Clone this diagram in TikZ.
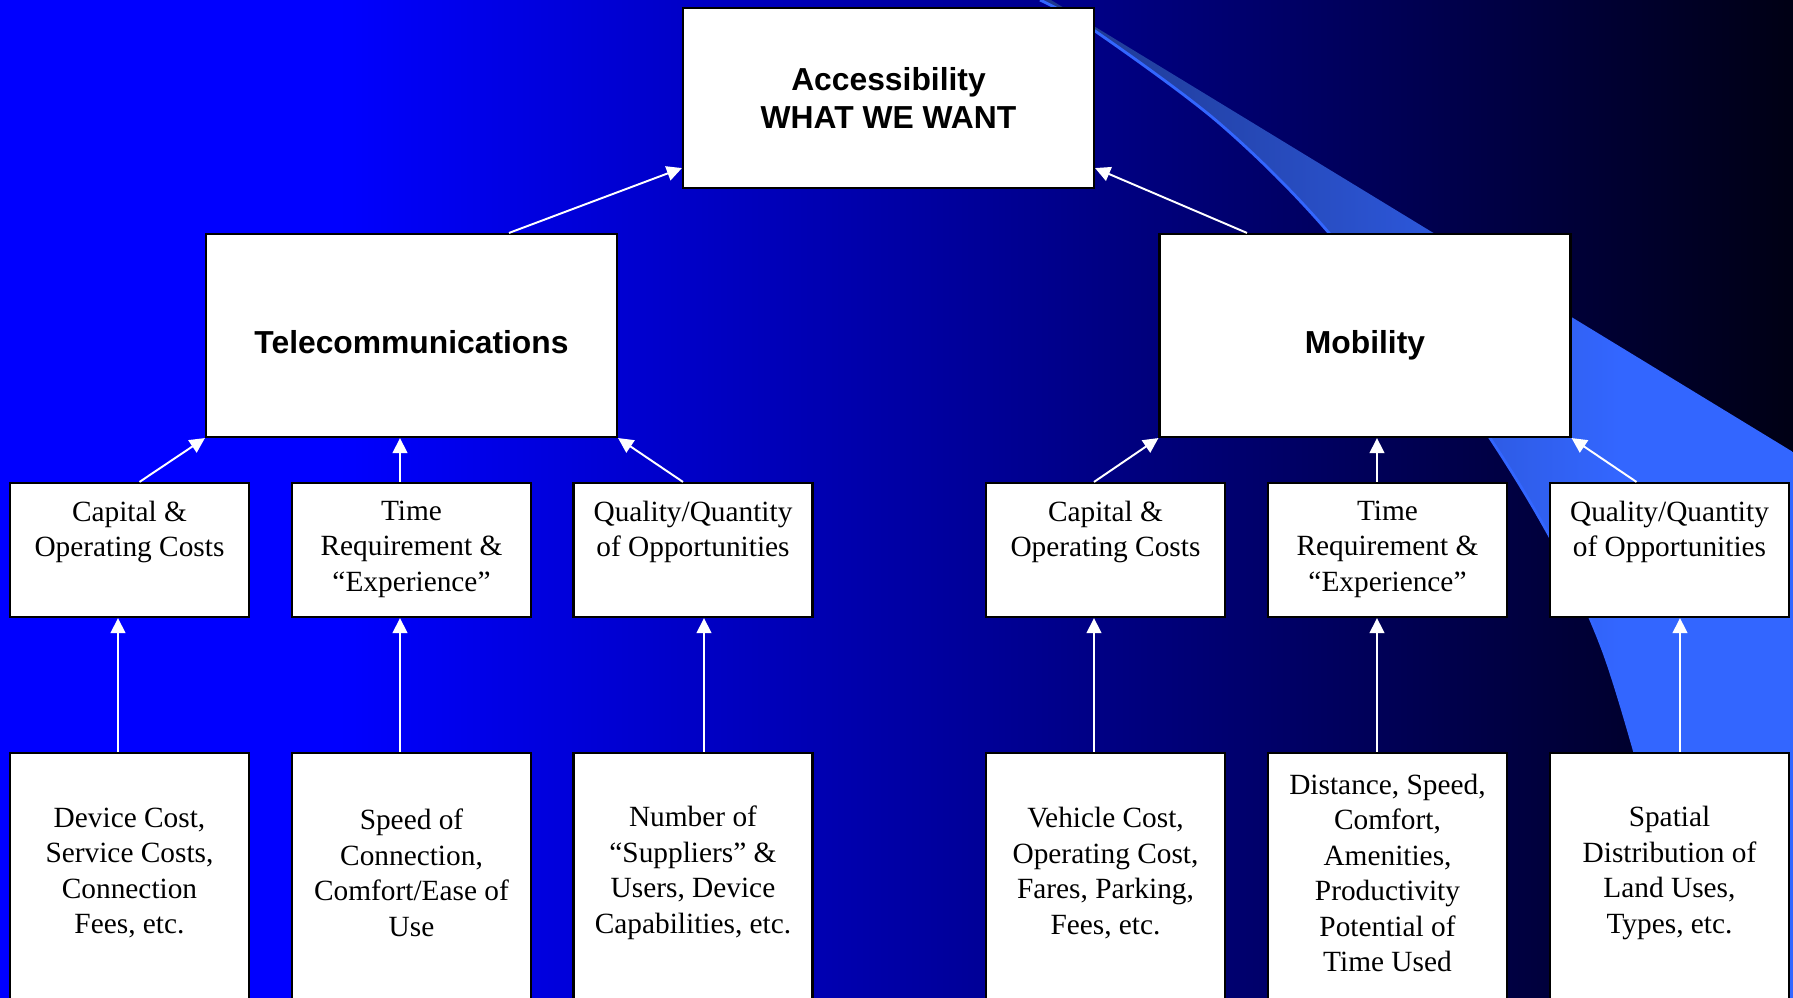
\documentclass[tikz,border=0pt]{standalone}
\usepackage{fontspec}
\setmainfont{Liberation Serif}
\setsansfont{Liberation Sans}
\usepackage{tikz}
\usetikzlibrary{arrows.meta, calc, positioning}
\definecolor{bgblue}{RGB}{0,0,255}
\definecolor{bgdark}{RGB}{0,0,20}
\definecolor{swdark}{RGB}{30,55,140}
\definecolor{swlight}{RGB}{51,102,255}

\begin{document}
\begin{tikzpicture}[x=0.1mm, y=-0.1mm,
  box/.style={draw=black, line width=0.6pt, fill=white, inner sep=0pt},
  headtxt/.style={font=\sffamily\bfseries\fontsize{9.05}{10.7}\selectfont, align=center},
  bodytxt/.style={font=\fontsize{8.35}{10.1}\selectfont, align=center, inner sep=0pt},
  arr/.style={draw=white, line width=0.55pt, -{Triangle[length=4.3pt, width=4.2pt]}}]
  \useasboundingbox (0,0) rectangle (1793,998);
  \fill[bgblue] (0,0) rectangle (1793,998);
  \shade[left color=bgblue, right color=bgdark] (340,0) rectangle (1793,998);
  \begin{scope}
    \clip (1051,0) -- (1793,452) -- (1793,998) -- (1700,998)
      -- plot[smooth] coordinates {(1700,998) (1603,650) (1490,438) (1329,233) (1219,123) (1095,31) (1040,0)} -- cycle;
    \shade[left color=swdark, right color=swlight] (1040,0) rectangle (1620,998);
    \fill[swlight] (1620,0) rectangle (1793,998);
  \end{scope}
  \draw[swlight, line width=0.8pt] plot[smooth] coordinates {(1040,0) (1095,31) (1219,123) (1329,233) (1490,438) (1603,650) (1700,998)};

  \node[box, headtxt, minimum width=41.1mm, minimum height=18mm] (acc) at (888.5,98) {Accessibility\\WHAT WE WANT};
  \node[box, headtxt, text height=10pt, text depth=0pt, minimum width=41.1mm, minimum height=20.3mm] (tele) at (411.5,335.5) {Telecommunications};
  \node[box, headtxt, text height=10pt, text depth=0pt, minimum width=41.1mm, minimum height=20.3mm] (mob) at (1365,335.5) {Mobility};

  \node[box, minimum width=23.9mm, minimum height=13.4mm] (tcap) at (129.5,550) {};
  \node[box, minimum width=23.9mm, minimum height=13.4mm] (ttime) at (411.5,550) {};
  \node[box, minimum width=23.9mm, minimum height=13.4mm] (tqual) at (693,550) {};
  \node[box, minimum width=23.9mm, minimum height=13.4mm] (mcap) at (1105.5,550) {};
  \node[box, minimum width=23.9mm, minimum height=13.4mm] (mtime) at (1387.5,550) {};
  \node[box, minimum width=23.9mm, minimum height=13.4mm] (mqual) at (1669.5,550) {};
  \node[bodytxt, below=1.8mm of tcap.north] (tcaptxt) {Capital \&\\Operating Costs};
  \node[bodytxt, below=1.8mm of ttime.north] (ttimetxt) {Time\\Requirement \&\\“Experience”};
  \node[bodytxt, below=1.8mm of tqual.north] (tqualtxt) {Quality/Quantity\\of Opportunities};
  \node[bodytxt, below=1.8mm of mcap.north] (mcaptxt) {Capital \&\\Operating Costs};
  \node[bodytxt, below=1.8mm of mtime.north] (mtimetxt) {Time\\Requirement \&\\“Experience”};
  \node[bodytxt, below=1.8mm of mqual.north] (mqualtxt) {Quality/Quantity\\of Opportunities};

  \node[box, minimum width=23.9mm, minimum height=26.7mm] (tdev) at (129.5,886.5) {};
  \node[box, minimum width=23.9mm, minimum height=26.7mm] (tspeed) at (411.5,886.5) {};
  \node[box, minimum width=23.9mm, minimum height=26.7mm] (tsupp) at (693,886.5) {};
  \node[box, minimum width=23.9mm, minimum height=26.7mm] (mveh) at (1105.5,886.5) {};
  \node[box, minimum width=23.9mm, minimum height=26.7mm] (mdist) at (1387.5,886.5) {};
  \node[box, minimum width=23.9mm, minimum height=26.7mm] (mland) at (1669.5,886.5) {};
  \node[bodytxt] (tdevtxt) at ([yshift=-12.1mm]tdev.north) {Device Cost,\\Service Costs,\\Connection\\Fees, etc.};
  \node[bodytxt] (tspeedtxt) at ([yshift=-12.1mm]tspeed.north) {Speed of\\Connection,\\Comfort/Ease of\\Use};
  \node[bodytxt] (tsupptxt) at ([yshift=-12.1mm]tsupp.north) {Number of\\“Suppliers” \&\\Users, Device\\Capabilities, etc.};
  \node[bodytxt] (mvehtxt) at ([yshift=-12.1mm]mveh.north) {Vehicle Cost,\\Operating Cost,\\Fares, Parking,\\Fees, etc.};
  \node[bodytxt] (mdisttxt) at ([yshift=-12.1mm]mdist.north) {Distance, Speed,\\Comfort,\\Amenities,\\Productivity\\Potential of\\Time Used};
  \node[bodytxt] (mlandtxt) at ([yshift=-12.1mm]mland.north) {Spatial\\Distribution of\\Land Uses,\\Types, etc.};

  \draw[arr] ($(tele.north)+(97.5,0)$) -- ($(acc.south west)+(0,-21)$);
  \draw[arr] ($(mob.north)+(-118,0)$) -- ($(acc.south east)+(0,-21)$);
  \draw[arr] ($(tcap.north)+(10,0)$) -- (tele.south west);
  \draw[arr] ($(ttime.north)+(-11.5,0)$) -- ($(tele.south)+(-11.5,0)$);
  \draw[arr] ($(tqual.north)+(-10,0)$) -- (tele.south east);
  \draw[arr] ($(mcap.north)+(-11.5,0)$) -- (mob.south west);
  \draw[arr] ($(mtime.north)+(-10.5,0)$) -- ($(mob.south)+(12,0)$);
  \draw[arr] ($(mqual.north)+(-33,0)$) -- (mob.south east);
  \draw[arr] ($(tdev.north)+(-11.5,0)$) -- ($(tcap.south)+(-11.5,0)$);
  \draw[arr] ($(tspeed.north)+(-11.5,0)$) -- ($(ttime.south)+(-11.5,0)$);
  \draw[arr] ($(tsupp.north)+(11,0)$) -- ($(tqual.south)+(11,0)$);
  \draw[arr] ($(mveh.north)+(-11.5,0)$) -- ($(mcap.south)+(-11.5,0)$);
  \draw[arr] ($(mdist.north)+(-10.5,0)$) -- ($(mtime.south)+(-10.5,0)$);
  \draw[arr] ($(mland.north)+(10.5,0)$) -- ($(mqual.south)+(10.5,0)$);
\end{tikzpicture}
\end{document}
